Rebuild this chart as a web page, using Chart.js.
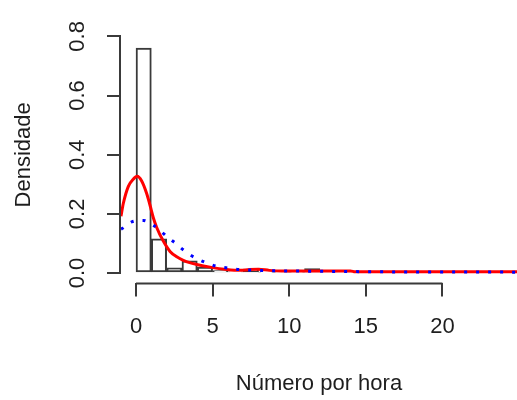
<!DOCTYPE html>
<html>
<head>
<meta charset="utf-8">
<script src="https://cdn.jsdelivr.net/npm/chart.js@4.4.1/dist/chart.umd.min.js"></script>
<style>
  html, body { margin: 0; padding: 0; background: #fff; }
  #wrap { width: 517px; height: 400px; }
</style>
</head>
<body>
<div id="wrap"><canvas id="hist" width="517" height="400"></canvas></div>
<script>
// histogram: unit-width bins starting at binStart, heights as density
var binStart   = [0, 1, 2, 3, 4, 5, 6, 7, 8, 9, 10, 11, 12, 13];
var binDensity = [0.760, 0.116, 0.018, 0.041, 0.020, 0.008, 0.004, 0.013, 0.003, 0.003, 0.003, 0.015, 0.004, 0.004];

// fitted density (solid red)
var redX = [-0.98, -0.83, -0.5, -0.18, 0.08, 0.37, 0.7, 0.91, 1.13, 1.35, 1.78, 2.22, 2.66, 3.09, 3.5, 3.96, 4.83, 5.92, 6.8, 7.4, 8.0, 8.7, 9.5, 14.0, 14.3, 24.9];
var redY = [0.192, 0.235, 0.293, 0.317, 0.327, 0.311, 0.268, 0.230, 0.187, 0.154, 0.108, 0.073, 0.055, 0.043, 0.035, 0.029, 0.020, 0.012, 0.009, 0.012, 0.013, 0.009, 0.007, 0.007, 0.004, 0.004];

// second fitted density (dotted blue)
var blueX = [-0.98, -0.89, -0.28, 0.48, 1.09, 1.61, 2.11, 2.59, 3.02, 3.48, 4.07, 4.72, 5.31, 5.99, 6.5, 7.5, 8.5, 10, 12, 14, 16, 24.9];
var blueY = [0.148, 0.151, 0.173, 0.178, 0.163, 0.142, 0.119, 0.100, 0.081, 0.063, 0.046, 0.032, 0.022, 0.017, 0.013, 0.010, 0.008, 0.007, 0.006, 0.005, 0.004, 0.003];

var xTicks = [0, 5, 10, 15, 20];
var yTicks = [0, 0.2, 0.4, 0.6, 0.8];

var ink = '#3a3a3a';
var textColor = '#1e1e1e';
var family = '"Liberation Sans", Arial, sans-serif';

function pts(xs, ys) {
  return xs.map(function (x, i) { return { x: x, y: ys[i] }; });
}

// R-style axis lines that only span the first..last tick
var rAxes = {
  id: 'rAxes',
  afterDatasetsDraw: function (chart) {
    var ctx = chart.ctx, a = chart.chartArea, x = chart.scales.x, y = chart.scales.y;
    ctx.save();
    ctx.strokeStyle = ink;
    ctx.lineWidth = 2;
    ctx.beginPath();
    ctx.moveTo(x.getPixelForValue(xTicks[0]), a.bottom + 1);
    ctx.lineTo(x.getPixelForValue(xTicks[xTicks.length - 1]), a.bottom + 1);
    ctx.moveTo(a.left - 1, y.getPixelForValue(yTicks[0]));
    ctx.lineTo(a.left - 1, y.getPixelForValue(yTicks[yTicks.length - 1]));
    ctx.stroke();
    ctx.restore();
  }
};

new Chart(document.getElementById('hist'), {
  type: 'bar',
  data: {
    datasets: [
      {
        type: 'line',
        data: pts(blueX, blueY),
        borderColor: '#0000ff',
        borderWidth: 3,
        borderDash: [3, 9],
        pointRadius: 0,
        cubicInterpolationMode: 'monotone',
        fill: false,
        order: 0
      },
      {
        type: 'line',
        data: pts(redX, redY),
        borderColor: '#ff0000',
        borderWidth: 3,
        pointRadius: 0,
        cubicInterpolationMode: 'monotone',
        fill: false,
        order: 1
      },
      {
        type: 'bar',
        data: pts(binStart.map(function (b) { return b + 0.5; }), binDensity),
        backgroundColor: '#ffffff',
        borderColor: ink,
        borderWidth: 2,
        borderSkipped: false,
        barPercentage: 1,
        categoryPercentage: 1,
        order: 2
      }
    ]
  },
  options: {
    responsive: false,
    devicePixelRatio: 1,
    animation: false,
    layout: { padding: { top: 16.5, left: 0, right: 0, bottom: 0 } },
    plugins: { legend: { display: false }, tooltip: { enabled: false } },
    scales: {
      x: {
        type: 'linear',
        min: -0.98,
        max: 24.87,
        offset: false,
        afterBuildTicks: function (s) { s.ticks = xTicks.map(function (v) { return { value: v }; }); },
        afterFit: function (s) { s.height = 117.5; },
        grid: { offset: false, drawOnChartArea: false, drawTicks: true, tickLength: 14, color: ink, lineWidth: 2 },
        border: { display: false },
        ticks: {
          autoSkip: false, maxRotation: 0, padding: 17.7, color: textColor,
          font: { family: family, size: 22 },
          callback: function (v) { return String(v); }
        },
        title: {
          display: true, text: 'Número por hora', color: textColor,
          font: { family: family, size: 22 }, padding: { top: 0, bottom: 3 }
        }
      },
      y: {
        type: 'linear',
        min: -0.032,
        max: 0.831,
        afterBuildTicks: function (s) { s.ticks = yTicks.map(function (v) { return { value: v }; }); },
        afterFit: function (s) { s.width = 121; },
        grid: { drawOnChartArea: false, drawTicks: true, tickLength: 14, color: ink, lineWidth: 2 },
        border: { display: false },
        ticks: {
          autoSkip: false, minRotation: 90, maxRotation: 90, crossAlign: 'center', padding: 14,
          color: textColor, font: { family: family, size: 22 },
          callback: function (v) { return v.toFixed(1); }
        },
        title: {
          display: true, text: 'Densidade', color: textColor,
          font: { family: family, size: 22 }, padding: { top: 11, bottom: 0 }
        }
      }
    }
  },
  plugins: [rAxes]
});
</script>
</body>
</html>
